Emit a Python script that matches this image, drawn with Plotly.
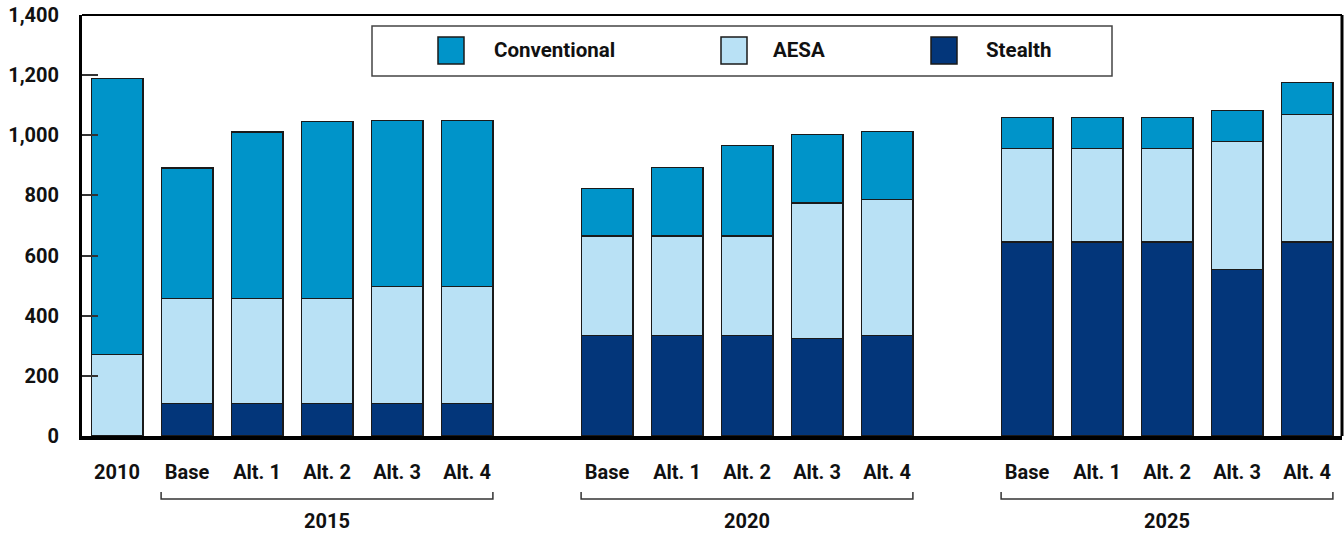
import plotly.graph_objects as go

# ---------------- data ----------------
bar_labels = ["2010",
              "Base", "Alt. 1", "Alt. 2", "Alt. 3", "Alt. 4",
              "Base", "Alt. 1", "Alt. 2", "Alt. 3", "Alt. 4",
              "Base", "Alt. 1", "Alt. 2", "Alt. 3", "Alt. 4"]
bar_groups = ["2010",
              "2015", "2015", "2015", "2015", "2015",
              "2020", "2020", "2020", "2020", "2020",
              "2025", "2025", "2025", "2025", "2025"]
bracket_groups = ["2015", "2020", "2025"]

stealth = [0, 108, 108, 108, 108, 108, 335, 335, 335, 325, 335, 645, 645, 645, 555, 645]
aesa = [271, 350, 350, 350, 390, 390, 330, 330, 330, 450, 452, 310, 310, 310, 425, 425]
conventional = [917, 433, 553, 589, 552, 552, 157, 227, 300, 227, 225, 105, 105, 105, 102, 105]

y_ticks = [0, 200, 400, 600, 800, 1000, 1200, 1400]

series_names = ["Conventional", "AESA", "Stealth"]
series_colors = {"Conventional": "#0094C9", "AESA": "#B9E1F5", "Stealth": "#03367A"}
series_values = {"Conventional": conventional, "AESA": aesa, "Stealth": stealth}

# ---------------- layout helpers ----------------
FONT = "Roboto, Liberation Sans Narrow, Arial Narrow, sans-serif"
W, H = 1344, 534
ML, MR, MT, MB = 82, 2, 15, 98
PW, PH = W - ML - MR, H - MT - MB


def px_x(px):
    """screen pixel x -> paper x"""
    return (px - ML) / PW


def px_y(py):
    """screen pixel y -> paper y"""
    return (H - MB - py) / PH


# slot positions: an empty slot between the 2015/2020 and 2020/2025 groups
positions = []
pos = 0
for i, g in enumerate(bar_groups):
    if i > 0 and g != bar_groups[i - 1] and bar_groups[i - 1] != "2010":
        pos += 1
    positions.append(pos)
    if i < len(bar_groups) - 1:
        pos += 1

BAR_W = 0.74

fig = go.Figure()
for name in ["Stealth", "AESA", "Conventional"]:
    fig.add_trace(go.Bar(
        x=positions, y=series_values[name], name=name, width=BAR_W,
        marker=dict(color=series_colors[name], line=dict(color="#1a1a1a", width=1.2)),
        showlegend=False,
    ))

shapes = []
annotations = []

# frame (top & right)
shapes.append(dict(type="line", xref="paper", yref="paper", x0=0, x1=1, y0=1, y1=1,
                   line=dict(color="black", width=2)))
shapes.append(dict(type="line", xref="paper", yref="paper", x0=1, x1=1, y0=0, y1=1,
                   line=dict(color="black", width=3)))

# group brackets and labels
for g in bracket_groups:
    xs = [p for p, gg in zip(positions, bar_groups) if gg == g]
    x0 = min(xs) - BAR_W / 2
    x1 = max(xs) + BAR_W / 2
    yt, yb = px_y(492), px_y(499)
    shapes.append(dict(type="path", xref="x", yref="paper",
                       path=f"M {x0},{yt} L {x0},{yb} L {x1},{yb} L {x1},{yt}",
                       line=dict(color="#333333", width=1.5)))
    annotations.append(dict(x=(min(xs) + max(xs)) / 2, y=px_y(521), xref="x", yref="paper",
                            text=g, showarrow=False, xanchor="center", yanchor="middle",
                            font=dict(family=FONT, size=20, color="#111111", weight="bold")))

# legend box
shapes.append(dict(type="rect", xref="paper", yref="paper",
                   x0=px_x(372), x1=px_x(1112), y0=px_y(76), y1=px_y(26),
                   line=dict(color="#444444", width=1.5), fillcolor="white", layer="above"))
swatch_left = [438, 721, 931]
text_left = [492, 771, 984]
for name, sx, tx in zip(series_names, swatch_left, text_left):
    shapes.append(dict(type="rect", xref="paper", yref="paper",
                       x0=px_x(sx), x1=px_x(sx + 26), y0=px_y(64), y1=px_y(37),
                       line=dict(color="#1a1a1a", width=1.5),
                       fillcolor=series_colors[name], layer="above"))
    annotations.append(dict(x=px_x(tx), y=px_y(50.5), xref="paper", yref="paper",
                            text=name, showarrow=False, xanchor="left", yanchor="middle",
                            font=dict(family=FONT, size=20.5, color="#111111", weight="bold")))

fig.update_layout(
    width=W, height=H,
    margin=dict(l=ML, r=MR, t=MT, b=MB, pad=0, autoexpand=False),
    paper_bgcolor="white", plot_bgcolor="white",
    barmode="stack", bargap=0,
    showlegend=False, hovermode=False,
    shapes=shapes, annotations=annotations,
    font=dict(family=FONT, color="#111111"),
)
fig.update_xaxes(
    range=[-0.5, max(positions) + 0.5],
    tickmode="array", tickvals=positions, ticktext=bar_labels,
    ticks="", ticklabelstandoff=15, automargin=False,
    tickfont=dict(family=FONT, size=20, color="#111111", weight="bold"),
    showline=True, linecolor="black", linewidth=4,
    showgrid=False, zeroline=False,
)
fig.update_yaxes(
    range=[0, 1400],
    tickmode="array", tickvals=y_ticks, tickformat=",",
    ticks="inside", ticklen=16, tickwidth=2, tickcolor="#333333",
    ticklabelstandoff=16, ticklabeloverflow="allow", automargin=False,
    tickfont=dict(family=FONT, size=20, color="#111111", weight="bold"),
    showline=True, linecolor="black", linewidth=3,
    showgrid=False, zeroline=False,
)

fig.write_html(
    "out.html",
    config={"displayModeBar": False, "staticPlot": True},
    post_script="document.body.style.margin='0';document.documentElement.style.margin='0';"
                "document.body.style.overflow='hidden';",
)
